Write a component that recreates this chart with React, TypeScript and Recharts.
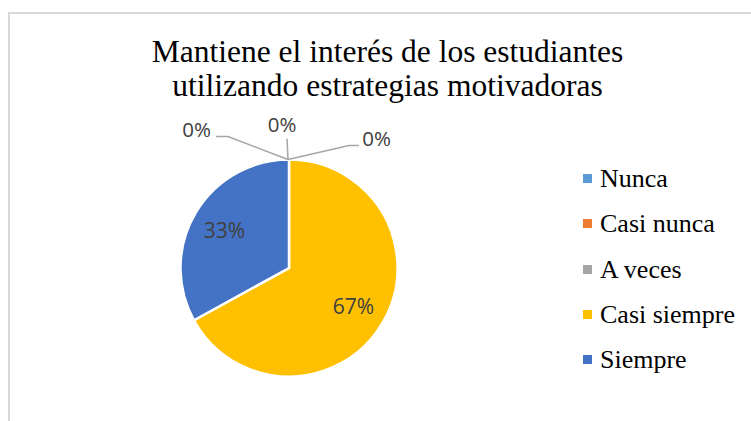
import React from 'react';
import { PieChart, Pie, Cell, Legend, Customized } from 'recharts';

const categories = ['Nunca', 'Casi nunca', 'A veces', 'Casi siempre', 'Siempre'];
const values = [0, 0, 0, 67, 33];
const colors = ['#5B9BD5', '#ED7D31', '#A5A5A5', '#FFC000', '#4472C4'];
const titleLines = ['Mantiene el interés de los estudiantes', 'utilizando estrategias motivadoras'];

const data = categories.map((name, i) => ({ name, value: values[i] }));

// leader layout for zero-valued labels, relative to top point of pie
const zeroLayout: Record<number, { pts: [number, number][]; tx: number; ty: number }> = {
  0: { pts: [[-60, -23], [-72, -23]], tx: -91.5, ty: -22.5 },
  1: { pts: [[-1, -21]], tx: -6, ty: -27.5 },
  2: { pts: [[61, -14], [71, -14]], tx: 88.5, ty: -14 },
};

const RAD = Math.PI / 180;

const renderLabel = (props: any) => {
  const { cx, cy, midAngle, outerRadius, index, percent } = props;
  const txt = `${Math.round((percent || 0) * 100)}%`;
  if (values[index] === 0) {
    const l = zeroLayout[index];
    if (!l) return null;
    const tx0 = cx - 1;
    const ty0 = cy - outerRadius;
    const pts = [[tx0, ty0], ...l.pts.map(([dx, dy]) => [tx0 + dx, ty0 + dy])];
    return (
      <g key={`zl-${index}`}>
        <polyline points={pts.map((p) => p.join(',')).join(' ')} fill="none" stroke="#A6A6A6" strokeWidth={1.5} />
        <text x={tx0 + l.tx} y={ty0 + l.ty} textAnchor="middle" fontFamily="'Open Sans', sans-serif" fontSize={20.5} fill="#404040">
          {txt}
        </text>
      </g>
    );
  }
  const r = outerRadius * 0.69;
  const x = cx + r * Math.cos(-midAngle * RAD);
  const y = cy + r * Math.sin(-midAngle * RAD);
  return (
    <text key={`l-${index}`} x={x} y={y} textAnchor="middle" dominantBaseline="central" fontFamily="'Open Sans', sans-serif" fontSize={21} fill="#404040">
      {txt}
    </text>
  );
};

const Title = () => (
  <text textAnchor="middle" fontFamily="'Liberation Serif', 'Times New Roman', serif" fontSize={31.5} fill="#000">
    <tspan x={387.5} y={62}>{titleLines[0]}</tspan>
    <tspan x={387.5} y={96}>{titleLines[1]}</tspan>
  </text>
);

const LegendContent = () => (
  <div style={{ fontFamily: "'Liberation Serif', 'Times New Roman', serif", fontSize: 26, color: '#000' }}>
    {categories.map((c, i) => (
      <div key={c} style={{ display: 'flex', alignItems: 'center', height: 45.3, whiteSpace: 'nowrap' }}>
        <span style={{ display: 'inline-block', width: 9, height: 9, background: colors[i], marginRight: 8 }} />
        <span style={{ lineHeight: '45.3px' }}>{c}</span>
      </div>
    ))}
  </div>
);

export default function App() {
  return (
    <div style={{ position: 'absolute', left: 0, top: 0, width: 751, height: 421, overflow: 'hidden', background: '#fff' }}>
      <div style={{ position: 'absolute', left: 8, top: 12, width: 800, height: 500, borderLeft: '2px solid #D9D9D9', borderTop: '2px solid #D9D9D9' }} />
      <div style={{ position: 'absolute', left: 0, top: 0 }}>
        <PieChart width={751} height={421} margin={{ top: 0, right: 0, bottom: 0, left: 0 }}>
          <Customized component={Title} />
          <Pie
            data={data}
            dataKey="value"
            nameKey="name"
            cx={289}
            cy={268}
            outerRadius={108.5}
            startAngle={90}
            endAngle={-270}
            stroke="#fff"
            strokeWidth={2.5}
            label={renderLabel}
            labelLine={false}
            isAnimationActive={false}
          >
            {data.map((d, i) => (
              <Cell key={d.name} fill={colors[i]} />
            ))}
          </Pie>
          <Legend
            layout="vertical"
            content={<LegendContent />}
            wrapperStyle={{ position: 'absolute', left: 583, top: 156, width: 170 }}
          />
        </PieChart>
      </div>
    </div>
  );
}
